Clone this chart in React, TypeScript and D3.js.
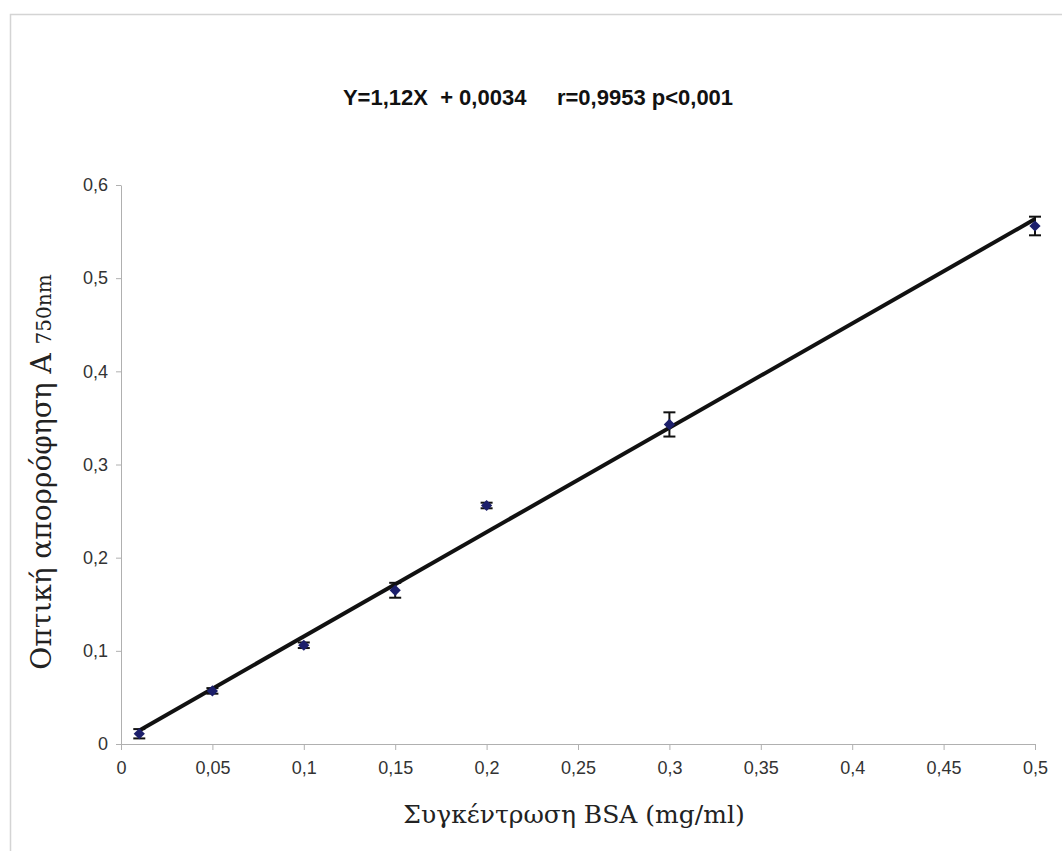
import React, { useRef, useEffect } from "react";
import * as d3 from "d3";

// BSA standard curve (mg/ml) vs absorbance at 750nm
const concentrations = [0.01, 0.05, 0.1, 0.15, 0.2, 0.3, 0.5];
const absorbance = [0.011, 0.057, 0.106, 0.165, 0.256, 0.343, 0.556];
const errors = [0.005, 0.003, 0.003, 0.008, 0.003, 0.013, 0.01];
const xTicks = [0, 0.05, 0.1, 0.15, 0.2, 0.25, 0.3, 0.35, 0.4, 0.45, 0.5];
const yTicks = [0, 0.1, 0.2, 0.3, 0.4, 0.5, 0.6];
const slope = 1.12;
const intercept = 0.0034;
const fitRange = [0.01, 0.5];

const fmt = (v: number) => String(v).replace(".", ",");

function App() {
  const ref = useRef<SVGSVGElement>(null);

  useEffect(() => {
    const svg = d3.select(ref.current);
    svg.selectAll("*").remove();

    const width = 1062;
    const height = 851;
    const margin = { top: 185, right: 27, bottom: 107, left: 121 };

    const x = d3
      .scaleLinear()
      .domain([0, 0.5])
      .range([margin.left, width - margin.right]);
    const y = d3
      .scaleLinear()
      .domain([0, 0.6])
      .range([height - margin.bottom, margin.top]);

    // outer frame
    svg
      .append("rect")
      .attr("x", 10.5)
      .attr("y", 14.5)
      .attr("width", 1060)
      .attr("height", 860)
      .attr("fill", "none")
      .attr("stroke", "#d4d4d4")
      .attr("stroke-width", 1.5);

    // axes
    const xAxis = svg
      .append("g")
      .attr("transform", `translate(0,${y(0)})`)
      .call(
        d3
          .axisBottom(x)
          .tickValues(xTicks)
          .tickSize(6)
          .tickSizeOuter(0)
          .tickFormat((d) => fmt(+d))
      );
    xAxis.select(".domain").attr("stroke", "#b0b0b0");
    xAxis.selectAll(".tick line").attr("stroke", "#b0b0b0");
    xAxis
      .selectAll(".tick text")
      .attr("y", 17)
      .attr("fill", "#333")
      .style("font-family", "'Liberation Sans', Arial, sans-serif")
      .style("font-size", "18px");

    const yAxis = svg
      .append("g")
      .attr("transform", `translate(${x(0)},0)`)
      .call(
        d3
          .axisLeft(y)
          .tickValues(yTicks)
          .tickSize(5)
          .tickSizeOuter(0)
          .tickFormat((d) => fmt(+d))
      );
    yAxis.select(".domain").attr("stroke", "#b0b0b0");
    yAxis.selectAll(".tick line").attr("stroke", "#b0b0b0");
    yAxis
      .selectAll(".tick text")
      .attr("x", -13)
      .attr("fill", "#333")
      .style("font-family", "'Liberation Sans', Arial, sans-serif")
      .style("font-size", "18px");

    // regression line
    svg
      .append("line")
      .attr("x1", x(fitRange[0]))
      .attr("y1", y(slope * fitRange[0] + intercept))
      .attr("x2", x(fitRange[1]))
      .attr("y2", y(slope * fitRange[1] + intercept))
      .attr("stroke", "#111")
      .attr("stroke-width", 4);

    const pts = concentrations.map((c, i) => ({
      c,
      a: absorbance[i],
      e: errors[i],
    }));

    // error bars
    const eb = svg.append("g").attr("stroke", "#111").attr("stroke-width", 2);
    pts.forEach((p) => {
      const cx = x(p.c);
      eb.append("line")
        .attr("x1", cx)
        .attr("x2", cx)
        .attr("y1", y(p.a - p.e))
        .attr("y2", y(p.a + p.e));
      [p.a - p.e, p.a + p.e].forEach((v) =>
        eb
          .append("line")
          .attr("x1", cx - 6)
          .attr("x2", cx + 6)
          .attr("y1", y(v))
          .attr("y2", y(v))
      );
    });

    // diamond markers
    svg
      .append("g")
      .selectAll("path")
      .data(pts)
      .enter()
      .append("path")
      .attr("d", d3.symbol().type(d3.symbolDiamond2).size(80)())
      .attr("transform", (d) => `translate(${x(d.c)},${y(d.a)})`)
      .attr("fill", "#1c1f6b");

    // title
    svg
      .append("text")
      .attr("x", 538)
      .attr("y", 105)
      .attr("text-anchor", "middle")
      .style("font-family", "'Liberation Sans', Arial, sans-serif")
      .style("font-size", "22px")
      .style("font-weight", "bold")
      .style("white-space", "pre")
      .attr("fill", "#111")
      .text("Y=1,12X  + 0,0034     r=0,9953 p<0,001");

    // x label
    svg
      .append("text")
      .attr("x", 574)
      .attr("y", 823)
      .attr("text-anchor", "middle")
      .style("font-family", "'DejaVu Serif', serif")
      .style("font-size", "25px")
      .attr("fill", "#222")
      .text("Συγκέντρωση BSA (mg/ml)");

    // y label
    const yl = svg
      .append("text")
      .attr("transform", "translate(51,472) rotate(-90)")
      .attr("text-anchor", "middle")
      .style("font-family", "'DejaVu Serif', serif")
      .style("font-size", "28px")
      .attr("fill", "#222");
    yl.append("tspan").text("Οπτική απορρόφηση Α ");
    yl.append("tspan").style("font-size", "20px").text("750nm");
  }, []);

  return (
    <svg
      ref={ref}
      width={1062}
      height={851}
      style={{ position: "absolute", left: 0, top: 0, background: "#fff" }}
    ></svg>
  );
}

export default App;
